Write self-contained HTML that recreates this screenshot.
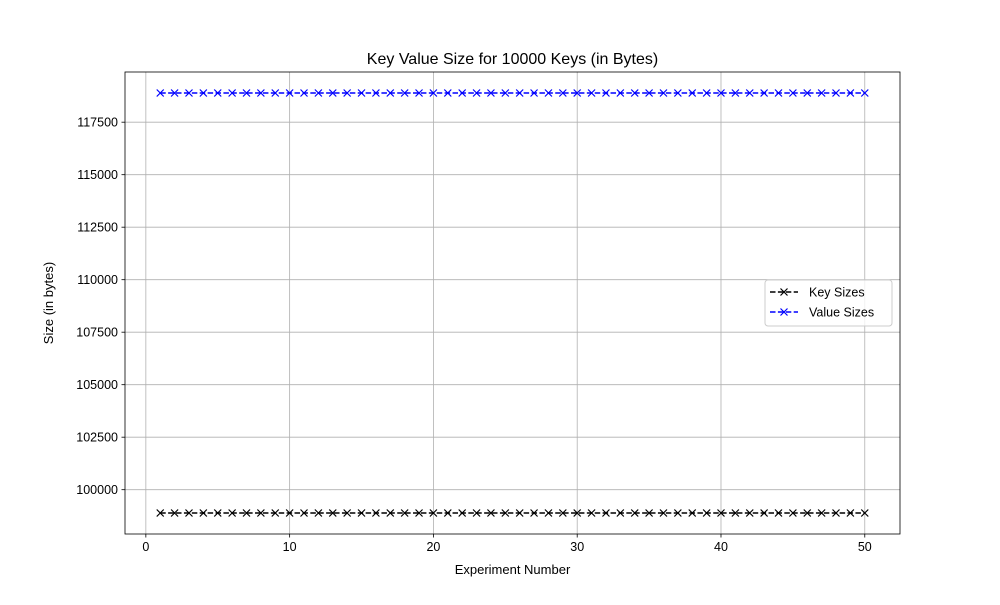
<!DOCTYPE html>
<html><head><meta charset="utf-8"><style>body{margin:0;background:#fff}svg{font-family:"Liberation Sans","DejaVu Sans",sans-serif}</style></head>
<body>
<svg id="c" width="1000" height="600" xmlns="http://www.w3.org/2000/svg"></svg>
<script>
const experiments = Array.from({length:50},(_,i)=>i+1);
const keySizes = [98890,98890,98890,98890,98890,98890,98890,98890,98890,98890,98890,98890,98890,98890,98890,98890,98890,98890,98890,98890,98890,98890,98890,98890,98890,98890,98890,98890,98890,98890,98890,98890,98890,98890,98890,98890,98890,98890,98890,98890,98890,98890,98890,98890,98890,98890,98890,98890,98890,98890];
const valueSizes = [118890,118890,118890,118890,118890,118890,118890,118890,118890,118890,118890,118890,118890,118890,118890,118890,118890,118890,118890,118890,118890,118890,118890,118890,118890,118890,118890,118890,118890,118890,118890,118890,118890,118890,118890,118890,118890,118890,118890,118890,118890,118890,118890,118890,118890,118890,118890,118890,118890,118890];
const xTicks = [0,10,20,30,40,50];
const yTicks = [100000,102500,105000,107500,110000,112500,115000,117500];

const L=125,R=900,T=72,B=534;
const all=keySizes.concat(valueSizes);
const ymin0=Math.min(...all), ymax0=Math.max(...all), yp=(ymax0-ymin0)*0.05||1;
const ymin=ymin0-yp, ymax=ymax0+yp;
const xmin0=Math.min(...experiments), xmax0=Math.max(...experiments), xp=(xmax0-xmin0)*0.05;
const xmin=xmin0-xp, xmax=xmax0+xp;
const sx=v=>L+(v-xmin)/(xmax-xmin)*(R-L);
const sy=v=>B-(v-ymin)/(ymax-ymin)*(B-T);
const svg=document.getElementById('c');
const NS='http://www.w3.org/2000/svg';
function mk(tag,attrs,parent){const e=document.createElementNS(NS,tag);for(const k in attrs)e.setAttribute(k,attrs[k]);(parent||svg).appendChild(e);return e;}

const grid=mk('g',{});


xTicks.forEach(t=>{const x=sx(t);
 mk('line',{x1:x,x2:x,y1:T,y2:B,stroke:'#b0b0b0','stroke-width':0.8},grid);
 mk('line',{x1:x,x2:x,y1:B,y2:B+3.5,stroke:'#000','stroke-width':0.8});
 const tx=mk('text',{x:x,y:B+17,'font-size':12.5,'text-anchor':'middle'});tx.textContent=t;
 
 
});
yTicks.forEach(t=>{const y=sy(t);
 mk('line',{x1:L,x2:R,y1:y,y2:y,stroke:'#b0b0b0','stroke-width':0.8},grid);
 mk('line',{x1:L-3.5,x2:L,y1:y,y2:y,stroke:'#000','stroke-width':0.8});
 const tx=mk('text',{x:L-7,y:y+4.5,'font-size':12.5,'text-anchor':'end'});tx.textContent=t;
 
 
});
function series(vals,color,name){
 const g=mk('g',{});
 
 
 mk('polyline',{points:experiments.map((x,i)=>sx(x)+','+sy(vals[i])).join(' '),fill:'none',stroke:color,'stroke-width':1.5,'stroke-dasharray':'5.5,2.4'},g);
 experiments.forEach((x,i)=>{const cx=sx(x),cy=sy(vals[i]);
  mk('path',{d:`M${cx-3.5},${cy-3.5}L${cx+3.5},${cy+3.5}M${cx-3.5},${cy+3.5}L${cx+3.5},${cy-3.5}`,stroke:color,'stroke-width':1.2},g);});
}
series(keySizes,'#000','key-sizes-series');
series(valueSizes,'#0000ff','value-sizes-series');
mk('rect',{x:L,y:T,width:R-L,height:B-T,fill:'none',stroke:'#000','stroke-width':0.8});
let t=mk('text',{x:(L+R)/2,y:64,'font-size':16,'text-anchor':'middle'});t.textContent='Key Value Size for 10000 Keys (in Bytes)';

t=mk('text',{x:(L+R)/2,y:574,'font-size':13,'text-anchor':'middle'});t.textContent='Experiment Number';

t=mk('text',{x:53,y:(T+B)/2,'font-size':13,'text-anchor':'middle',transform:`rotate(-90 53 ${(T+B)/2})`});t.textContent='Size (in bytes)';

const lg=mk('g',{});


mk('rect',{x:765,y:280,width:127,height:46,rx:3,fill:'#fff','fill-opacity':0.8,stroke:'#ccc'},lg);
[['Key Sizes','#000',292],['Value Sizes','#0000ff',312]].forEach(([n,c,y])=>{
 mk('line',{x1:770,x2:798,y1:y,y2:y,stroke:c,'stroke-width':1.5,'stroke-dasharray':'5.5,2.4'},lg);
 mk('path',{d:`M780.5,${y-3.5}L787.5,${y+3.5}M780.5,${y+3.5}L787.5,${y-3.5}`,stroke:c,'stroke-width':1.2},lg);
 const tx=mk('text',{x:809,y:y+4.5,'font-size':12.5},lg);tx.textContent=n;
 
 
});
</script>
</body></html>
